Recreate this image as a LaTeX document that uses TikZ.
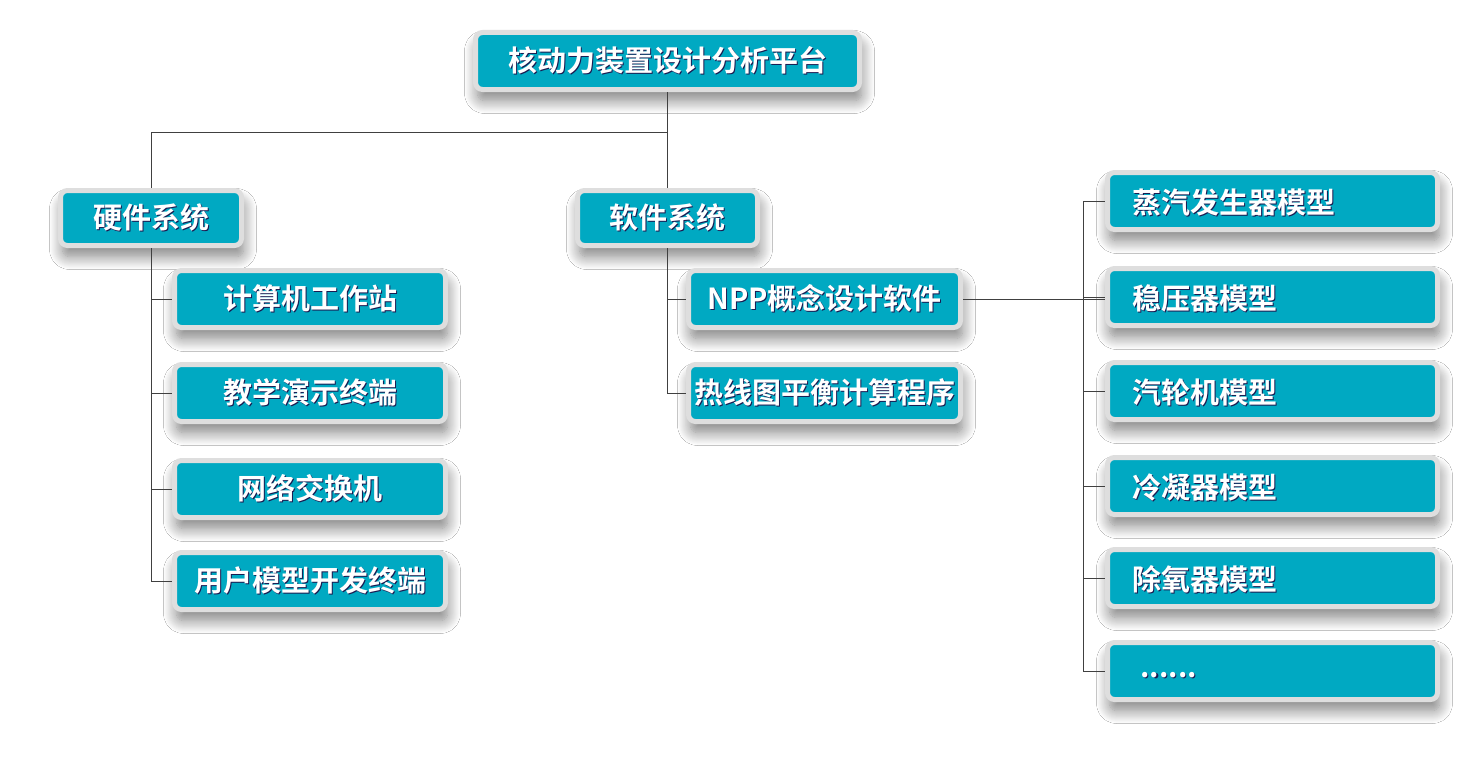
\documentclass[tikz,border=0pt]{standalone}
\usepackage{fontspec}
\newfontfamily\cjk{Noto Sans CJK SC}[BoldFont={* Bold}]
\usetikzlibrary{shadows.blur}
\definecolor{tealbox}{HTML}{00A9C2}
\definecolor{frame}{HTML}{DEDEDE}
\definecolor{txtshadow}{HTML}{1A1A50}
\definecolor{linec}{HTML}{404040}
\newcommand{\st}[1]{\rlap{\kern1.2pt\raisebox{-1.2pt}{\textcolor{txtshadow}{#1}}}#1}
\tikzset{
  x=1pt, y=-1pt,
  box/.style={rectangle, rounded corners=7pt, fill=tealbox, draw=frame, line width=5pt,
    text=white, font=\cjk\bfseries\fontsize{29}{30}\selectfont, inner sep=0pt,
    blur shadow={shadow xshift=2pt, shadow yshift=-11pt, shadow blur radius=13pt, shadow blur steps=14, shadow opacity=50}},
  conn/.style={draw=linec, line width=0.9pt},
}
\begin{document}
\begin{tikzpicture}
\fill[white] (0,0) rectangle (1471,760);
\useasboundingbox (0,0) rectangle (1471,760);
% top
\node[box, minimum width=384pt, minimum height=57pt] (top) at (667.5,61) {\st{核动力装置设计分析平台}};
\node[box, minimum width=181pt, minimum height=55pt] (hw) at (151,218) {\st{硬件系统}};
\node[box, minimum width=180pt, minimum height=55pt] (sw) at (667.5,218) {\st{软件系统}};
% hardware children
\node[box, minimum width=271pt, minimum height=57pt] (k1) at (310,299) {\st{计算机工作站}};
\node[box, minimum width=271pt, minimum height=57pt] (k2) at (310,393) {\st{教学演示终端}};
\node[box, minimum width=271pt, minimum height=57pt] (k3) at (310,489) {\st{网络交换机}};
\node[box, minimum width=271pt, minimum height=57pt] (k4) at (310,581) {\st{用户模型开发终端}};
% software children
\node[box, minimum width=272pt, minimum height=57pt] (s1) at (824.5,299) {\st{NPP概念设计软件}};
\node[box, minimum width=272pt, minimum height=57pt] (s2) at (824.5,393) {\st{热线图平衡计算程序}};
% right column
\tikzset{rbox/.style={box, minimum width=330pt, minimum height=57pt, text width=330pt, align=left, text depth=0pt}}
\node[rbox] (r1) at (1272.5,201) {\hspace*{25pt}\st{蒸汽发生器模型}};
\node[rbox] (r2) at (1272.5,297) {\hspace*{25pt}\st{稳压器模型}};
\node[rbox] (r3) at (1272.5,391) {\hspace*{25pt}\st{汽轮机模型}};
\node[rbox] (r4) at (1272.5,486) {\hspace*{25pt}\st{冷凝器模型}};
\node[rbox] (r5) at (1272.5,578) {\hspace*{25pt}\st{除氧器模型}};
\node[rbox] (r6) at (1272.5,671) {\hspace*{33pt}\raisebox{-6pt}{\st{......}}};
% connectors
\coordinate (j) at (667.5,132);
\draw[conn] (top.south) -- (sw.north);
\draw[conn] (j) -| (hw.north);
\draw[conn] (hw.south) -- (hw.south |- k4.west) -- (k4.west);
\foreach \k in {k1,k2,k3} \draw[conn] (hw.south |- \k.west) -- (\k.west);
\draw[conn] (sw.south) -- (sw.south |- s2.west) -- (s2.west);
\draw[conn] (sw.south |- s1.west) -- (s1.west);
\coordinate (bus) at (1083,0);
\draw[conn] (s1.east) -- (s1.east -| r2.west);
\draw[conn] (bus |- r1.west) -- (bus |- r6.west);
\foreach \r in {r1,r2,r3,r4,r5,r6} \draw[conn] (bus |- \r.west) -- (\r.west);
\end{tikzpicture}
\end{document}
